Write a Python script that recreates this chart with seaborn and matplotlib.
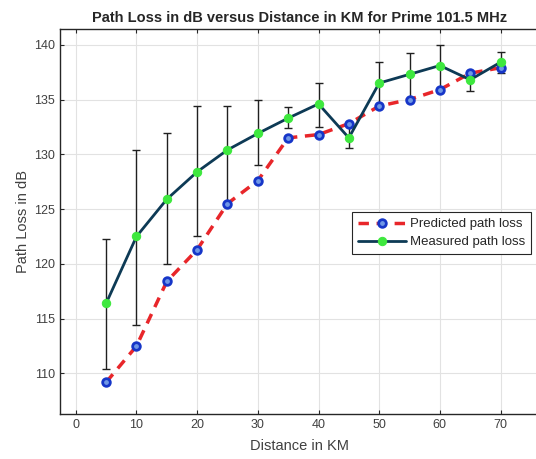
import numpy as np
import pandas as pd
import matplotlib.pyplot as plt
import seaborn as sns

# Data
distance = [5, 10, 15, 20, 25, 30, 35, 40, 45, 50, 55, 60, 65, 70]
predicted = [109.2, 112.5, 118.4, 121.3, 125.5, 127.6, 131.5, 131.8, 132.8, 134.4, 135.0, 135.9, 137.4, 137.9]
measured = [116.4, 122.5, 125.9, 128.4, 130.4, 131.9, 133.3, 134.6, 131.5, 136.5, 137.3, 138.1, 136.8, 138.4]
err_low = [6.0, 8.1, 5.9, 5.9, 4.9, 2.9, 0.9, 2.1, 0.9, 2.0, 2.3, 2.2, 1.0, 1.0]
err_high = [5.9, 7.9, 6.0, 6.0, 4.0, 3.1, 1.0, 1.9, 1.3, 1.9, 1.9, 1.9, 0.7, 0.9]

df = pd.DataFrame({'distance': distance, 'predicted': predicted, 'measured': measured})

sns.set_style('whitegrid')
plt.rcParams['font.family'] = ['Liberation Sans', 'DejaVu Sans']

fig = plt.figure(figsize=(5.36, 4.59), dpi=100)
# right edge of the axes sits just past the image edge, as in the reference crop
ax = fig.add_axes([0.112, 0.098, 0.892, 0.838])

# Error bars on measured values
ax.errorbar(distance, measured, yerr=[err_low, err_high], fmt='none',
            ecolor='#202020', elinewidth=1.0, capsize=3, capthick=1.0, zorder=2)

# Predicted path loss
sns.lineplot(data=df, x='distance', y='predicted', ax=ax, color='#e8262a',
             linestyle=(0, (3, 2.2)), linewidth=2.5, marker='o', markersize=5.5,
             markerfacecolor='#6f97e6', markeredgecolor='#1636c8', markeredgewidth=2,
             label='Predicted path loss', zorder=3)

# Measured path loss
sns.lineplot(data=df, x='distance', y='measured', ax=ax, color='#0d3a55',
             linewidth=2, marker='o', markersize=6, markerfacecolor='#3ee83e',
             markeredgecolor='#3ee83e', label='Measured path loss', zorder=4)

ax.set_xlim(-2.6, 76.2)
ax.set_ylim(106.3, 141.4)
ax.set_xticks(range(0, 71, 10))
ax.set_yticks(range(110, 141, 5))
ax.grid(True, color='#e2e2e2', linewidth=0.8)
for s in ax.spines.values():
    s.set_color('#262626')
    s.set_linewidth(1.0)
ax.tick_params(axis='both', labelsize=9, colors='#262626', direction='in', length=3,
               left=True, bottom=True, top=True, labelcolor='#404040')

ax.set_title('Path Loss in dB versus Distance in KM for Prime 101.5 MHz',
             fontsize=10.5, fontweight='bold', pad=5)
ax.set_xlabel('Distance in KM', fontsize=10.5, color='#404040', labelpad=6)
ax.set_ylabel('Path Loss in dB', fontsize=10.5, color='#404040', labelpad=3)

leg = ax.legend(loc='upper right', bbox_to_anchor=(0.9907, 0.538),
                bbox_transform=fig.transFigure, borderaxespad=0, fontsize=9.5,
                frameon=True, fancybox=False, framealpha=1,
                edgecolor='#262626', borderpad=0.45, handlelength=3.6,
                handletextpad=0.3, labelspacing=0.45)
leg.get_frame().set_linewidth(0.8)

fig.savefig('out.png', dpi=100)
